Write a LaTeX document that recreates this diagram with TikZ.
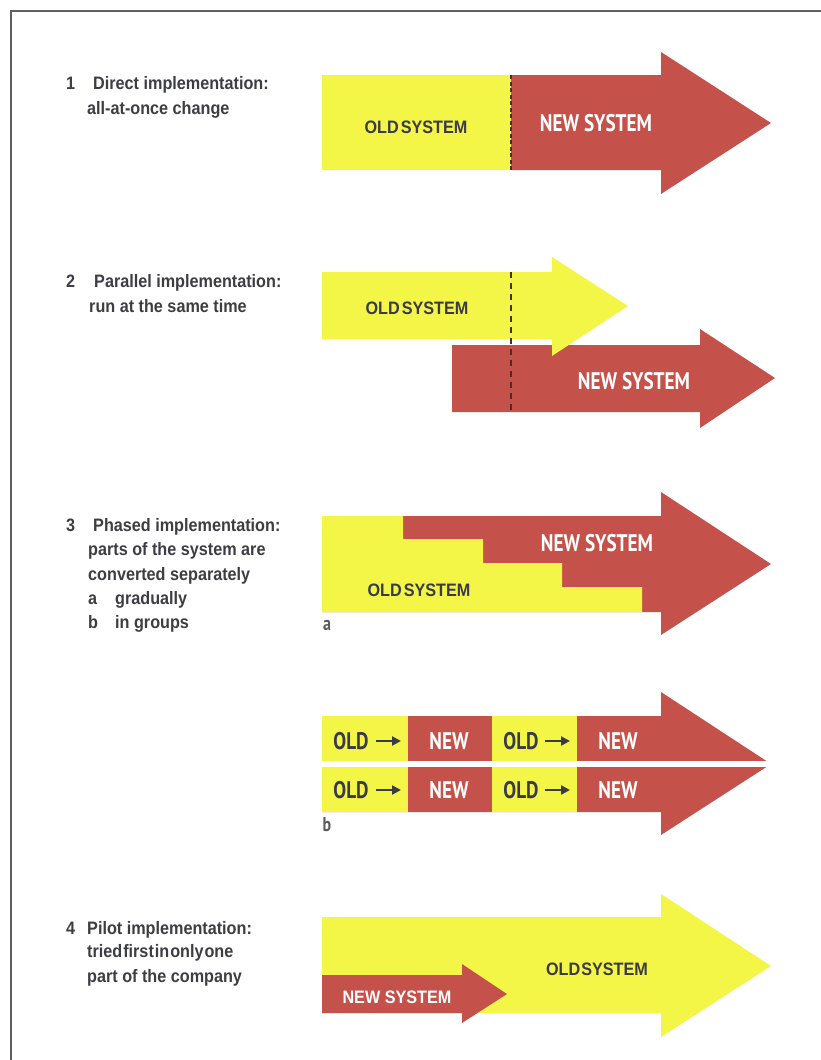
\documentclass[tikz,border=0pt]{standalone}
\usepackage{fontspec}
\usetikzlibrary{arrows.meta}
\setmainfont{Liberation Sans}
\newfontfamily\labelfont[FakeStretch=0.9]{Liberation Sans}
\newfontfamily\condfont[FakeStretch=0.8]{PT Sans}
\definecolor{oldc}{HTML}{F3F547}
\definecolor{newc}{HTML}{C5524A}
\definecolor{textc}{HTML}{3B3B47}
\definecolor{labc}{HTML}{3D3D44}
\definecolor{framec}{HTML}{5E5E64}
\definecolor{dashc}{HTML}{4A2E25}
\tikzset{
  lab/.style={anchor=base west, inner sep=0pt, text=labc, font=\labelfont\bfseries\fontsize{18}{20}\selectfont},
  oldtxt/.style={inner sep=0pt, text=textc, font=\labelfont\bfseries\fontsize{18}{20}\selectfont},
  newtxt/.style={inner sep=0pt, text=white, font=\condfont\bfseries\fontsize{24}{26}\selectfont},
  grptxt/.style={inner sep=0pt, font=\condfont\bfseries\fontsize{24}{26}\selectfont},
  sub/.style={inner sep=0pt, text=labc!85, font=\condfont\bfseries\fontsize{20}{22}\selectfont},
  grparrow/.style={draw=textc, line width=2.4pt, -{Triangle[length=9pt,width=9pt]}},
  dashone/.style={draw=dashc, line width=1.8pt, dash pattern=on 4pt off 2.5pt},
  dashtwo/.style={draw=dashc, line width=2pt, dash pattern=on 6pt off 5pt}
}
\begin{document}
\begin{tikzpicture}[x=1pt,y=-1pt]
\useasboundingbox (0,0) rectangle (821,1060);
\fill[white] (0,0) rectangle (821,1060);
\draw[framec, line width=2.6pt] (11,1062) -- (11,11) -- (823,11);

% ---------- 1 Direct ----------
\fill[oldc] (322,75) rectangle (511,170);
\fill[newc] (511,75) -- (661,75) -- (661,52) -- (771,123) -- (661,194) -- (661,170) -- (511,170) -- cycle;
\coordinate (d1t) at (511,75);
\coordinate (d1b) at (511,170);
\draw[dashone] (d1t) -- (d1b);
\node[oldtxt] (old1) at (416,127) {OLD\hspace{2pt}SYSTEM};
\node[newtxt] (new1) at (596,123) {NEW SYSTEM};

\node[lab] (n1) at (66,89) {1};
\node[lab] (l1a) at (93,89) {Direct implementation:};
\node[lab] (l1b) at (87,114) {all-at-once change};

% ---------- 2 Parallel ----------
\fill[newc] (452,345) -- (700,345) -- (700,329) -- (775,378) -- (700,428) -- (700,412) -- (452,412) -- cycle;
\fill[oldc] (322,272) -- (552,272) -- (552,257) -- (628,306) -- (552,356) -- (552,339) -- (322,339) -- cycle;
\coordinate (d2t) at (511,272);
\coordinate (d2b) at (511,412);
\draw[dashtwo] (d2t) -- (d2b);
\node[oldtxt] (old2) at (417,308) {OLD\hspace{2pt}SYSTEM};
\node[newtxt] (new2) at (634,381) {NEW SYSTEM};

\node[lab] (n2) at (66,287) {2};
\node[lab] (l2a) at (94,287) {Parallel implementation:};
\node[lab] (l2b) at (89,312) {run at the same time};

% ---------- 3a Phased gradually ----------
\fill[newc] (322,516) -- (661,516) -- (661,492) -- (771,564) -- (661,635) -- (661,612) -- (322,612) -- cycle;
\fill[oldc] (322,516) -- (403,516) -- (403,539) -- (483,539) -- (483,563) -- (562,563) -- (562,587) -- (642,587) -- (642,612) -- (322,612) -- cycle;
\node[newtxt] (new3) at (597,543) {NEW SYSTEM};
\node[oldtxt] (old3) at (419,590) {OLD\hspace{2pt}SYSTEM};
\node[sub] (suba) at (327,625) {a};

\node[lab] (n3) at (66,531) {3};
\node[lab] (l3a) at (93,531) {Phased implementation:};
\node[lab] (l3b) at (88,555.5) {parts of the system are};
\node[lab] (l3c) at (88,580) {converted separately};
\node[lab] (l3d) at (88,604) {a};
\node[lab] (l3e) at (115,604) {gradually};
\node[lab] (l3f) at (88,628) {b};
\node[lab] (l3g) at (115,628) {in groups};

% ---------- 3b Phased in groups ----------
\fill[newc] (322,716) -- (661,716) -- (661,692) -- (771,764) -- (661,835) -- (661,812) -- (322,812) -- cycle;
\fill[oldc] (322,716) rectangle (408,812);
\fill[oldc] (492,716) rectangle (577,812);
\fill[white] (318,761) rectangle (785,767);
\node[grptxt, text=textc] (o1) at (351,741) {OLD};
\node[grptxt, text=white] (w1) at (449,741) {NEW};
\node[grptxt, text=textc] (o2) at (521,741) {OLD};
\node[grptxt, text=white] (w2) at (618,741) {NEW};
\node[grptxt, text=textc] (o3) at (351,790) {OLD};
\node[grptxt, text=white] (w3) at (449,790) {NEW};
\node[grptxt, text=textc] (o4) at (521,790) {OLD};
\node[grptxt, text=white] (w4) at (618,790) {NEW};
\coordinate (a1) at (376,741);
\coordinate (a1e) at (401,741);
\coordinate (a2) at (545,741);
\coordinate (a2e) at (570,741);
\coordinate (a3) at (376,790);
\coordinate (a3e) at (401,790);
\coordinate (a4) at (545,790);
\coordinate (a4e) at (570,790);
\draw[grparrow] (a1) -- (a1e);
\draw[grparrow] (a2) -- (a2e);
\draw[grparrow] (a3) -- (a3e);
\draw[grparrow] (a4) -- (a4e);
\node[sub] (subb) at (327,825) {b};

% ---------- 4 Pilot ----------
\fill[oldc] (322,917) -- (661,917) -- (661,894) -- (771,966) -- (661,1037) -- (661,1013) -- (322,1013) -- cycle;
\fill[newc] (322,975) -- (462,975) -- (462,964) -- (507,994) -- (462,1023) -- (462,1013) -- (322,1013) -- cycle;
\node[oldtxt] (old4) at (597,969) {OLD\hspace{1pt}SYSTEM};
\node[oldtxt, text=white] (new4) at (397,997) {NEW SYSTEM};

\node[lab] (n4) at (66,934) {4};
\node[lab] (l4a) at (87,934) {Pilot implementation:};
\node[lab] (l4b) at (87,957) {tried\hspace{1pt}first\hspace{1pt}in\hspace{1pt}only\hspace{1pt}one};
\node[lab] (l4c) at (87,982) {part of the company};
\end{tikzpicture}
\end{document}
